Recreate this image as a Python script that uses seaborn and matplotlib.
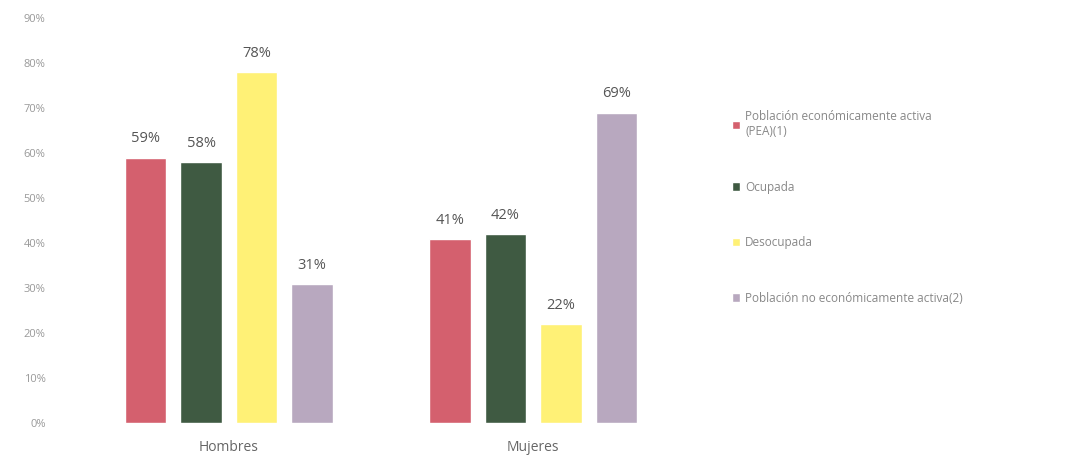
import matplotlib
matplotlib.use("Agg")
import matplotlib.pyplot as plt
import seaborn as sns
import pandas as pd
from matplotlib.ticker import PercentFormatter

groups = ["Hombres", "Mujeres"]
series = ["Población económicamente activa\n(PEA)(1)", "Ocupada", "Desocupada",
          "Población no económicamente activa(2)"]
hombres = [59, 58, 78, 31]
mujeres = [41, 42, 22, 69]
colors = ["#d4606e", "#3f5a42", "#fff176", "#b8a8bf"]
yticks = [0, 10, 20, 30, 40, 50, 60, 70, 80, 90]

rows = []
for s, h, m in zip(series, hombres, mujeres):
    rows.append({"grupo": groups[0], "serie": s, "valor": h})
    rows.append({"grupo": groups[1], "serie": s, "valor": m})
df = pd.DataFrame(rows)

sns.set_theme(style="white")
plt.rcParams['font.family'] = ['Open Sans', 'DejaVu Sans']

fig = plt.figure(figsize=(10.85, 4.63), dpi=100)
ax = fig.add_axes([0.065, 0.086, 0.571, 0.875])

sns.barplot(data=df, x="grupo", y="valor", hue="serie", order=groups,
            hue_order=series, palette=colors, width=0.73, gap=0.25,
            saturation=1, ax=ax, legend=True)

for cont in ax.containers:
    ax.bar_label(cont, labels=[f"{v:.0f}%" for v in cont.datavalues],
                 padding=8, fontsize=10.5, color="#555555")

ax.set_ylim(0, 90)
ax.set_yticks(yticks)
ax.yaxis.set_major_formatter(PercentFormatter(decimals=0))
ax.set_xlim(-0.52, 1.515)
ax.set_xlabel("")
ax.set_ylabel("")
ax.tick_params(axis="y", labelsize=8, colors="#999999", length=0, pad=18)
ax.tick_params(axis="x", labelsize=10, colors="#666666", length=0, pad=12)
for sp in ax.spines.values():
    sp.set_visible(False)

h, l = ax.get_legend_handles_labels()
ax.legend(h, l, loc="upper left", bbox_to_anchor=(0.665, 0.785),
          bbox_transform=fig.transFigure, frameon=False, fontsize=8.5,
          labelcolor="#888888", handlelength=0.7, handleheight=0.7,
          handletextpad=0.4, labelspacing=3.6)

fig.savefig("out.png", dpi=100, facecolor="white")
